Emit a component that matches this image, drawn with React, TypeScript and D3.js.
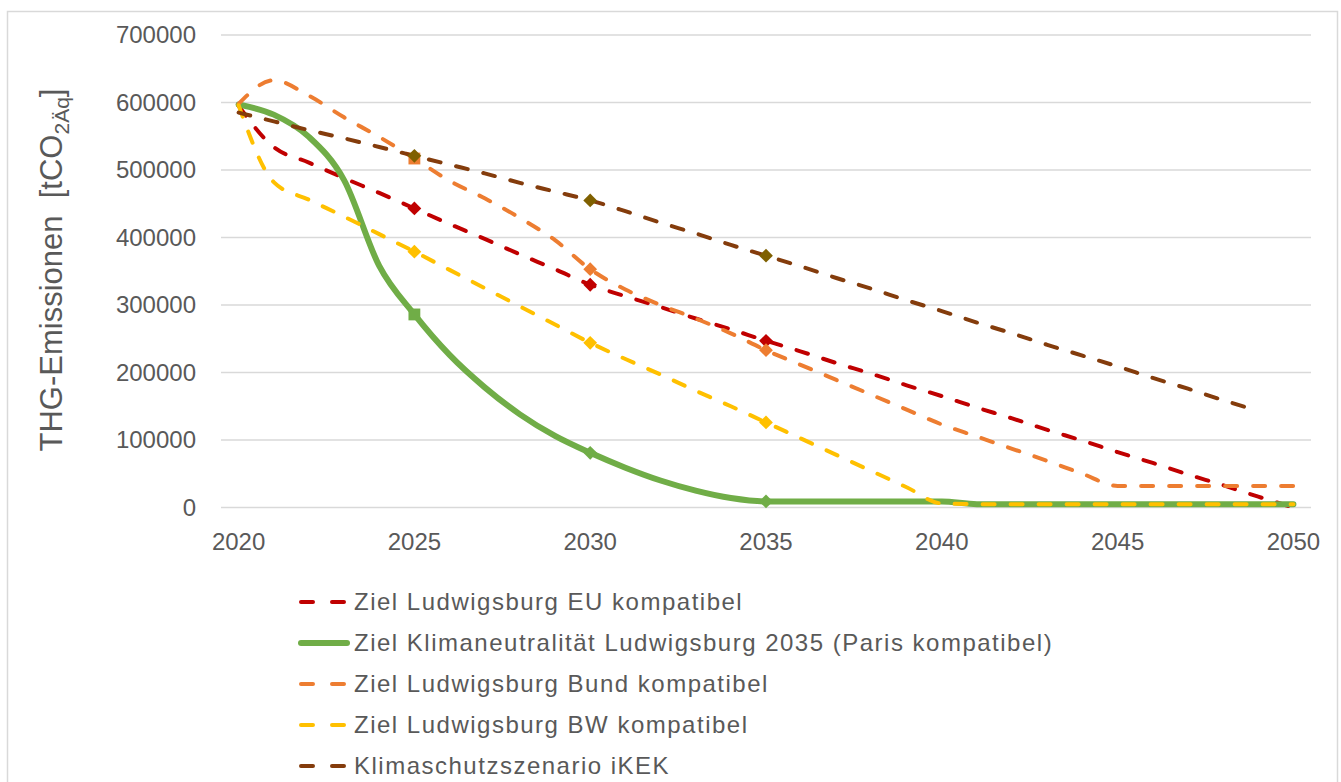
import React, { useRef, useEffect } from "react";
import * as d3 from "d3";

// years on the category axis
const years = d3.range(2020, 2051);
const yTicks = [0, 100000, 200000, 300000, 400000, 500000, 600000, 700000];
const xTickYears = [2020, 2025, 2030, 2035, 2040, 2045, 2050];
const markerYears = [2025, 2030, 2035];

const euValues = [
  595000, 534000, 511000, 488000, 466000, 443000, 420000, 398000, 375000, 353000, 330000,
  313000, 297000, 280000, 264000, 247000, 231000, 214000, 198000, 181000, 165000,
  148000, 132000, 115000, 99000, 82000, 66000, 49000, 33000, 16000, 0,
];
const parisValues = [
  597000, 582000, 549000, 485000, 358000, 286000, 226000, 178000, 138000, 106000, 81000,
  59000, 40000, 25000, 14000, 9000, 9000, 9000, 9000, 9000, 9000,
  5000, 5000, 5000, 5000, 5000, 5000, 5000, 5000, 5000, 5000,
];
const bundValues = [
  598000, 633000, 610000, 578000, 549000, 517000, 484000, 458000, 429000, 396000, 353000,
  323000, 300000, 280000, 258000, 233000, 211000, 189000, 167000, 145000, 123000,
  105000, 87000, 69000, 50000, 32000, 32000, 32000, 32000, 32000, 32000,
];
const bwValues = [
  596000, 482000, 456000, 431000, 405000, 379000, 352000, 325000, 298000, 271000, 244000,
  220000, 197000, 173000, 150000, 126000, 102000, 78000, 54000, 30000, 6000,
  5000, 5000, 5000, 5000, 5000, 5000, 5000, 5000, 5000, 5000,
];
const ikekValues = [
  585000, 572000, 559000, 547000, 534000, 521000, 508000, 495000, 481000, 468000, 455000,
  439000, 422000, 406000, 389000, 373000, 357000, 340000, 324000, 307000, 291000,
  274000, 258000, 241000, 225000, 209000, 192000, 176000, 159000, 143000, null,
];

const seriesNames = [
  "Ziel Ludwigsburg EU kompatibel",
  "Ziel Klimaneutralität Ludwigsburg 2035 (Paris kompatibel)",
  "Ziel Ludwigsburg Bund kompatibel",
  "Ziel Ludwigsburg BW kompatibel",
  "Klimaschutzszenario iKEK",
];
const seriesValues = [euValues, parisValues, bundValues, bwValues, ikekValues];
const lineColors = ["#C00000", "#70AD47", "#ED7D31", "#FFC000", "#843C0C"];
const markerColors = ["#C00000", "#70AD47", "#ED7D31", "#FFC000", "#7F6000"];
const solid = [false, true, false, false, false];

const FONT = "'Liberation Sans', Arial, sans-serif";
const TEXT = "#595959";
const GRID = "#D9D9D9";

function EmissionsChart() {
  const svgRef = useRef<SVGSVGElement>(null);

  useEffect(() => {
    const svg = d3.select(svgRef.current);
    svg.selectAll("*").remove();

    const left = 221, right = 1311, top = 35, bottom = 507.5;

    const xBand = d3.scaleBand<number>().domain(years).range([left, right]);
    const x = (yr: number) => (xBand(yr) as number) + xBand.bandwidth() / 2;
    const y = d3.scaleLinear().domain([0, 700000]).range([bottom, top]);

    // outer chart border
    svg.append("rect")
      .attr("x", 7.5).attr("y", 11.5)
      .attr("width", 1330).attr("height", 820)
      .attr("fill", "#fff")
      .attr("stroke", GRID).attr("stroke-width", 1.5);

    // gridlines
    svg.append("g")
      .selectAll("line")
      .data(yTicks)
      .join("line")
      .attr("x1", left).attr("x2", right)
      .attr("y1", d => y(d)).attr("y2", d => y(d))
      .attr("stroke", GRID).attr("stroke-width", 1.5);

    // y tick labels
    svg.append("g")
      .selectAll("text")
      .data(yTicks)
      .join("text")
      .attr("x", 196).attr("y", d => y(d))
      .attr("dy", "0.35em")
      .attr("text-anchor", "end")
      .attr("font-family", FONT).attr("font-size", 24)
      .attr("fill", TEXT)
      .text(d => String(d));

    // x tick labels
    svg.append("g")
      .selectAll("text")
      .data(xTickYears)
      .join("text")
      .attr("x", d => x(d)).attr("y", 550)
      .attr("text-anchor", "middle")
      .attr("font-family", FONT).attr("font-size", 24)
      .attr("fill", TEXT)
      .text(d => String(d));

    // y axis title
    const title = svg.append("text")
      .attr("transform", "translate(62,270) rotate(-90)")
      .attr("text-anchor", "middle")
      .attr("font-family", FONT).attr("font-size", 31)
      .attr("fill", TEXT);
    title.append("tspan").text("THG-Emissionen\u00A0\u00A0[tCO");
    title.append("tspan").attr("font-size", 21).attr("dy", 7).text("2Äq");
    title.append("tspan").attr("dy", -7).text("]");

    // lines
    const lineGen = d3.line<[number, number | null]>()
      .defined(d => d[1] != null)
      .x(d => x(d[0]))
      .y(d => y(d[1] as number))
      .curve(d3.curveMonotoneX);

    seriesValues.forEach((vals, i) => {
      const pts = years.map((yr, j) => [yr, vals[j]] as [number, number | null]);
      svg.append("path")
        .datum(pts)
        .attr("d", lineGen)
        .attr("fill", "none")
        .attr("stroke", lineColors[i])
        .attr("stroke-width", solid[i] ? 6 : 4)
        .attr("stroke-linecap", "round")
        .attr("stroke-linejoin", "round")
        .attr("stroke-dasharray", solid[i] ? null : "12 16");

      svg.append("g")
        .selectAll("path")
        .data(markerYears)
        .join("path")
        .attr("d", yr => {
          const sq = yr === 2025 && (i === 1 || i === 2);
          return d3.symbol().type(d3.symbolSquare).size(sq ? 140 : 95)() as string;
        })
        .attr("transform", yr => {
          const sq = yr === 2025 && (i === 1 || i === 2);
          return `translate(${x(yr)},${y(vals[years.indexOf(yr)] as number)}) rotate(${sq ? 0 : 45})`;
        })
        .attr("fill", markerColors[i]);
    });

    // legend
    const legend = svg.append("g");
    seriesNames.forEach((name, i) => {
      const ly = 602 + i * 41;
      legend.append("line")
        .attr("x1", 301).attr("x2", 347)
        .attr("y1", ly).attr("y2", ly)
        .attr("stroke", lineColors[i])
        .attr("stroke-width", solid[i] ? 6 : 4)
        .attr("stroke-linecap", "round")
        .attr("stroke-dasharray", solid[i] ? null : "12 19");
      legend.append("text")
        .attr("x", 354).attr("y", ly)
        .attr("dy", "0.35em")
        .attr("font-family", FONT).attr("font-size", 24)
        .attr("letter-spacing", 1.5)
        .attr("fill", TEXT)
        .text(name);
    });
  }, []);

  return (
    <svg
      ref={svgRef}
      width={1341}
      height={782}
      style={{ position: "absolute", left: 0, top: 0, display: "block", background: "#fff" }}
    />
  );
}

export default function App() {
  return <EmissionsChart />;
}
